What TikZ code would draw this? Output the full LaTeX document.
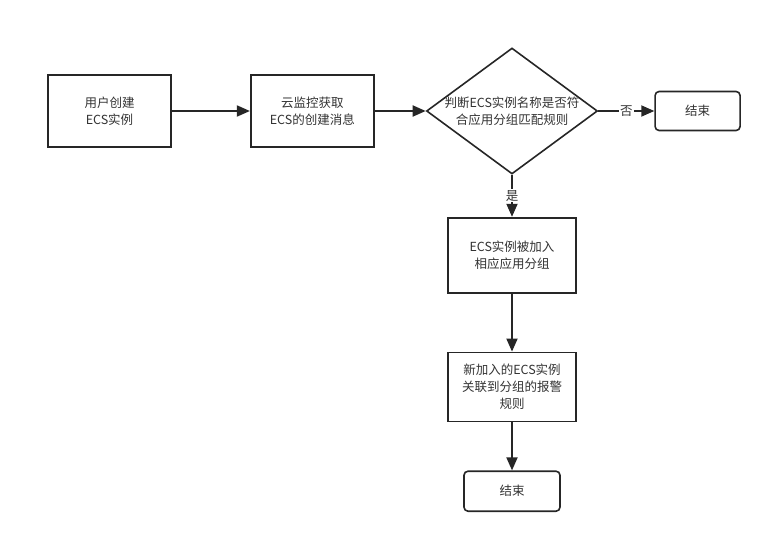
\documentclass[tikz,border=0pt]{standalone}
\usepackage{fontspec}
\setmainfont{Noto Sans CJK SC}
\usepackage{xcolor}
\usepackage{tikz}
\usetikzlibrary{shapes.geometric,arrows.meta,positioning}
\definecolor{linegray}{HTML}{262626}
\definecolor{textgray}{HTML}{333333}

\begin{document}
\begin{tikzpicture}[
  font=\fontsize{12.5}{17}\selectfont,
  block/.style={rectangle,draw=linegray,line width=1.8pt,fill=white,text=textgray,minimum width=123pt,minimum height=72pt,align=center,inner sep=2pt},
  wideblock/.style={block,minimum width=128pt},
  endblock/.style={rectangle,draw=linegray,line width=1.6pt,rounded corners=4pt,text=textgray,minimum height=39pt,align=center},
  decision/.style={diamond,draw=linegray,line width=1.6pt,minimum width=171pt,minimum height=126pt,inner sep=0pt},
  arr/.style={-{Triangle[length=13pt,width=11pt]},line width=1.8pt,draw=linegray},
  lbl/.style={fill=white,text=textgray,inner sep=1pt}
]
\useasboundingbox (0pt,0pt) rectangle (772pt,-544pt);
\node[block] (usr) at (109.5pt,-111pt) {用户创建\\ECS实例};
\node[block,right=78pt of usr] (mon) {云监控获取\\ECS的创建消息};
\node[decision,right=51pt of mon,label={[align=center,text=textgray]center:判断ECS实例名称是否符\\合应用分组匹配规则}] (chk) {};
\node[endblock,minimum width=85pt,right=56pt of chk] (end1) {结束};
\node[wideblock,minimum height=75pt,below=42pt of chk] (grp) {ECS实例被加入\\相应应用分组};
\node[wideblock,minimum height=69pt,below=58pt of grp] (rule) {新加入的ECS实例\\关联到分组的报警\\规则};
\node[endblock,minimum width=96pt,minimum height=40pt,below=48pt of rule] (end2) {结束};
\draw[arr] (usr)--(mon); \draw[arr] (mon)--(chk);
\draw[arr] (chk)--node[lbl]{否}(end1);
\draw[arr] (chk)--node[lbl]{是}(grp);
\draw[arr] (grp)--(rule); \draw[arr] (rule)--(end2);
\end{tikzpicture}
\end{document}
